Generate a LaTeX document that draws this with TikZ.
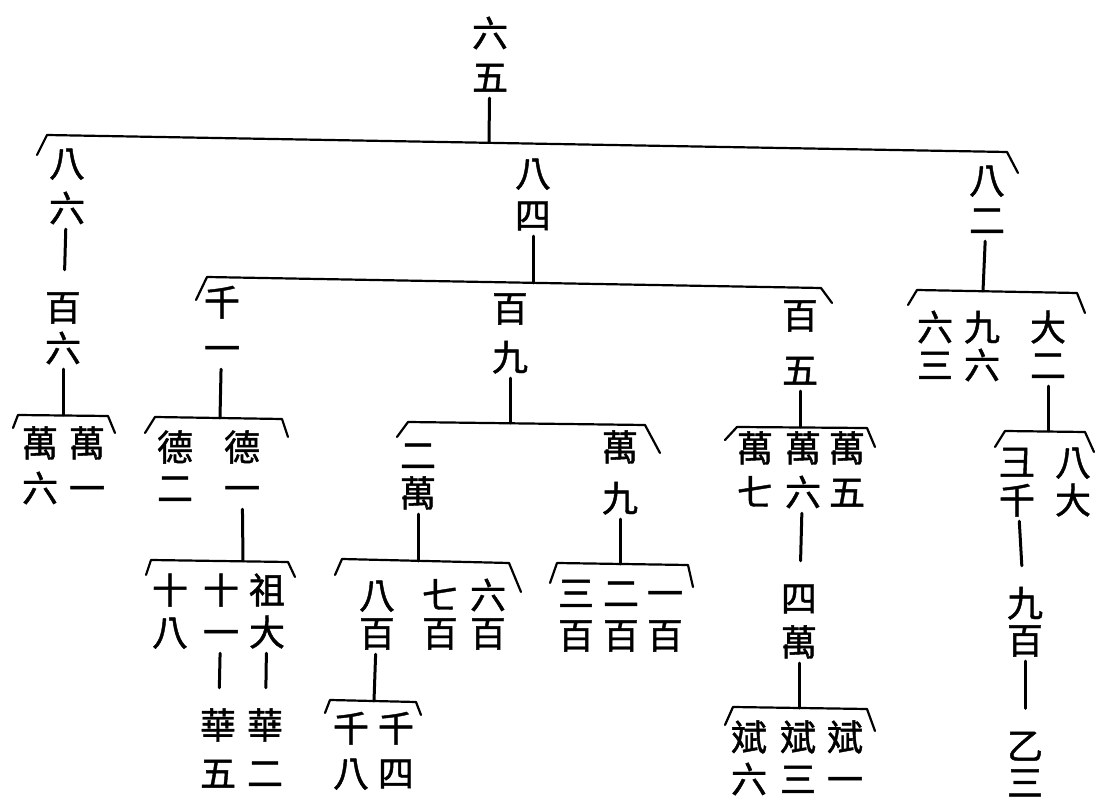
\documentclass[tikz,border=0pt]{standalone}
\usepackage{fontspec}
\newfontfamily\cjk[FakeBold=1.2]{Noto Sans CJK TC}
\newcommand\vpair[3][44]{\vbox{\offinterlineskip
  \hbox to 1em{\hss\rule[-0.12em]{0pt}{1em}#2\hss}%
  \vskip\dimexpr#1pt-1em\relax
  \hbox to 1em{\hss\rule[-0.12em]{0pt}{1em}#3\hss}}}
\begin{document}
\begin{tikzpicture}[x=1pt,y=-1pt,
  nm/.style={font=\cjk\fontsize{36}{40}\selectfont, inner sep=3pt},
  br/.style={line width=2.2pt, line cap=round, line join=round},
  stem/.style={line width=3pt, line cap=round},
  lnk/.style={stem, shorten >=16pt}]
\useasboundingbox[fill=white] (0,0) rectangle (1096,799);

% ---------- persons ----------
\node[nm] (r) at (490,55) {\vpair{六}{五}};
\node[nm] (a) at (67,185.5) {\vpair[45]{八}{六}};
\node[nm] (b) at (533,194) {\vpair[42]{八}{四}};
\node[nm] (c) at (987,200) {\vpair[40]{八}{二}};

\node[nm] (a1) at (63,327.5) {\vpair[41]{百}{六}};
\node[nm] (a11) at (40,465.5) {\vpair[45]{萬}{六}};
\node[nm] (a12) at (87,465.5) {\vpair[45]{萬}{一}};

\node[nm] (b1) at (222,325) {\vpair[46]{千}{一}};
\node[nm] (b11) at (175,467.5) {\vpair[41]{德}{二}};
\node[nm] (b12) at (242,467.5) {\vpair[41]{德}{一}};
\node[nm] (b121) at (170,611) {\vpair[42]{十}{八}};
\node[nm] (b122) at (221,611) {\vpair[42]{十}{一}};
\node[nm] (b123) at (267,611) {\vpair[42]{祖}{大}};
\node[nm] (b1221) at (218,749) {\vpair[48]{華}{五}};
\node[nm] (b1231) at (265,749) {\vpair[48]{華}{二}};

\node[nm] (b2) at (510,332.5) {\vpair[49]{百}{九}};
\node[nm] (b21) at (418,474) {\vpair[38]{二}{萬}};
\node[nm] (b22) at (620,472.5) {\vpair[51]{萬}{九}};
\node[nm] (b211) at (377,614) {\vpair[38]{八}{百}};
\node[nm] (b212) at (440,614) {\vpair[38]{七}{百}};
\node[nm] (b213) at (488,614) {\vpair[38]{六}{百}};
\node[nm] (b2111) at (351,750.5) {\vpair[45]{千}{八}};
\node[nm] (b2112) at (396,750.5) {\vpair[45]{千}{四}};
\node[nm] (b221) at (576,614) {\vpair[42]{三}{百}};
\node[nm] (b222) at (621,614) {\vpair[42]{二}{百}};
\node[nm] (b223) at (665,614) {\vpair[42]{一}{百}};

\node[nm] (b3) at (800,342.5) {\vpair[55]{百}{五}};
\node[nm] (b31) at (755,470) {\vpair[44]{萬}{七}};
\node[nm] (b32) at (803,470) {\vpair[44]{萬}{六}};
\node[nm] (b33) at (847,470) {\vpair[44]{萬}{五}};
\node[nm] (b321) at (799,620) {\vpair[44]{四}{萬}};
\node[nm] (b3211) at (749,758) {\vpair[42]{斌}{六}};
\node[nm] (b3212) at (798,758) {\vpair[42]{斌}{三}};
\node[nm] (b3213) at (845,758) {\vpair[42]{斌}{一}};

\node[nm] (c1) at (935,346) {\vpair[38]{六}{三}};
\node[nm] (c2) at (982,346) {\vpair[38]{九}{六}};
\node[nm] (c3) at (1048,346) {\vpair[38]{大}{二}};
\node[nm] (c31) at (1017,481) {\vpair[38]{彐}{千}};
\node[nm] (c32) at (1073,481) {\vpair[38]{八}{大}};
\node[nm] (c311) at (1025,621.5) {\vpair[37]{九}{百}};
\node[nm] (c3111) at (1025,764) {\vpair[37]{乙}{三}};

% ---------- brackets ----------
\draw[br] (37,155) -- (47,135) -- (1007,152) -- (1018,173);
\draw[br] (13,428) -- (18,415) -- (108,416) -- (115,433);
\draw[br] (196,300) -- (207,277) -- (821,288) -- (832,303);
\draw[br] (145,433) -- (155,417) -- (282,419) -- (288,437);
\draw[br] (146,575) -- (151,560) -- (288,562) -- (295,577);
\draw[br] (397,437) -- (408,422) -- (645,425) -- (660,453);
\draw[br] (335,575) -- (342,559) -- (509,563) -- (521,592);
\draw[br] (325,713) -- (330,700) -- (416,702) -- (421,715);
\draw[br] (550,583) -- (557,563) -- (688,565) -- (693,587);
\draw[br] (725,440) -- (737,427) -- (867,428) -- (875,447);
\draw[br] (725,725) -- (733,707) -- (867,709) -- (875,731);
\draw[br] (908,305) -- (917,290) -- (1077,293) -- (1085,313);
\draw[br] (995,447) -- (1005,431) -- (1085,432) -- (1094,452);

% ---------- stem ends on brackets ----------
\coordinate (s0) at (489,142);
\coordinate (sa1) at (63,415);
\coordinate (sb) at (533,283);
\coordinate (sb1) at (220,418);
\coordinate (sb12) at (243,561);
\coordinate (sb2) at (510,423);
\coordinate (sb21) at (418,561);
\coordinate (sb211) at (374,701);
\coordinate (sb22) at (620,564);
\coordinate (sb3) at (800,427);
\coordinate (sb321) at (799,708);
\coordinate (sc) at (983,291);
\coordinate (sc3) at (1048,431);

% ---------- stems ----------
\draw[stem] (r) -- (s0);
\draw[lnk] (a) -- (a1);
\draw[stem] (a1) -- (sa1);
\draw[stem] (b) -- (sb);
\draw[stem] (b1) -- (sb1);
\draw[stem] (b12) -- (sb12);
\draw[lnk] (b122) -- (b1221);
\draw[lnk] (b123) -- (b1231);
\draw[stem] (b2) -- (sb2);
\draw[stem] (b21) -- (sb21);
\draw[stem] (b211) -- (sb211);
\draw[stem] (b22) -- (sb22);
\draw[stem] (b3) -- (sb3);
\draw[lnk] (b32) -- (b321);
\draw[stem] (b321) -- (sb321);
\draw[stem] (c) -- (sc);
\draw[stem] (c3) -- (sc3);
\draw[lnk] (c31) -- (c311);
\draw[lnk] (c311) -- (c3111);
\end{tikzpicture}
\end{document}
